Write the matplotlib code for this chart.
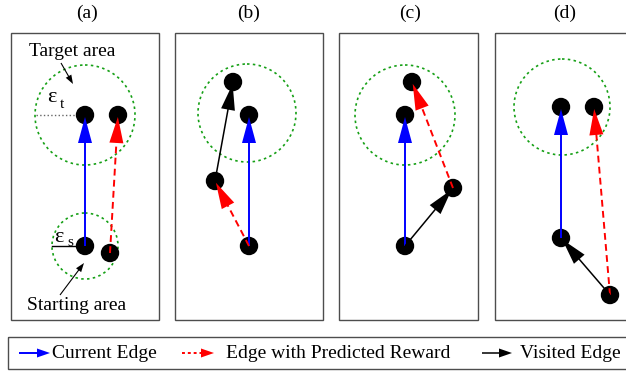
"""Diagrama de aristas: área objetivo, área de inicio y recompensas predichas."""

import matplotlib

matplotlib.use("Agg")
import matplotlib.pyplot as plt
from matplotlib.patches import Circle, Rectangle
import numpy as np

plt.rcParams["font.family"] = ["Liberation Serif", "DejaVu Serif"]

W, H = 626, 372

# panel frames and titles (pixel units, y pointing down)
panel_labels = ["(a)", "(b)", "(c)", "(d)"]
title_x = [87, 249, 410, 565]
panel_left = [11, 175, 339, 495]
panel_right = [159, 323, 478, 640]
panel_top, panel_bottom = 33, 320

# node positions per panel
nodes = [
    [(85, 115), (118, 115), (85, 246), (110, 253)],
    [(249, 115), (233, 82), (215, 181), (249, 246)],
    [(405, 115), (412, 82), (453, 188), (405, 246)],
    [(561, 107), (594, 107), (561, 238), (610, 295)],
]
# edges per panel: (from node, to node, kind)
edges = [
    [(2, 0, "current"), (3, 1, "predicted")],
    [(3, 0, "current"), (3, 2, "predicted"), (2, 1, "visited")],
    [(3, 0, "current"), (3, 2, "visited"), (2, 1, "predicted")],
    [(2, 0, "current"), (3, 1, "predicted"), (3, 2, "visited")],
]
target_center = [(85, 115), (247, 113), (405, 115), (562, 107)]
target_radius = [50, 49, 50, 48]
start_center = (85, 246)
start_radius = 33

edge_style = {
    "current": dict(color="#0000ff", ls="-", lw=1.4),
    "predicted": dict(color="#ff0000", ls=(0, (3.5, 2.2)), lw=1.4),
    "visited": dict(color="black", ls="-", lw=1.1),
}
legend_items = [("current", "Current Edge"),
                ("predicted", "Edge with Predicted Reward"),
                ("visited", "Visited Edge")]
legend_x = [(19, 50, 52), (182, 214, 226), (482, 512, 520)]


def draw_arrow(ax, p, q, color, ls, lw, head_len=26, head_w=7, tip_gap=2, z=3):
    p = np.asarray(p, float)
    q = np.asarray(q, float)
    u = (q - p) / np.hypot(*(q - p))
    n = np.array([-u[1], u[0]])
    tip = q - u * tip_gap
    base = tip - u * head_len
    end = base + u * 2
    ax.plot([p[0], end[0]], [p[1], end[1]], color=color, ls=ls, lw=lw, zorder=z,
            solid_capstyle="butt", dash_capstyle="butt")
    pts = [tip, base + n * head_w, base - n * head_w]
    ax.fill([pt[0] for pt in pts], [pt[1] for pt in pts], color=color, lw=0, zorder=z)


fig = plt.figure(figsize=(W / 100, H / 100), dpi=100)
ax = fig.add_axes([0, 0, 1, 1])
ax.set_xlim(0, W)
ax.set_ylim(H, 0)
ax.axis("off")

green = "#16a016"
dotted = (0, (1.5, 2.0))

for i, label in enumerate(panel_labels):
    ax.add_patch(Rectangle((panel_left[i], panel_top), panel_right[i] - panel_left[i],
                           panel_bottom - panel_top, fill=False, ec="0.3", lw=1.0, zorder=1))
    ax.text(title_x[i], 13, label, ha="center", va="center", fontsize=14)
    ax.add_patch(Circle(target_center[i], target_radius[i], fill=False, ec=green,
                        lw=1.2, ls=dotted, zorder=1))
    for x, y in nodes[i]:
        ax.add_patch(Circle((x, y), 8.5, color="black", zorder=2))
    for a, b, kind in edges[i]:
        draw_arrow(ax, nodes[i][a], nodes[i][b], **edge_style[kind])

# annotations of panel (a)
ax.add_patch(Circle(start_center, start_radius, fill=False, ec=green, lw=1.2, ls=dotted, zorder=1))
ax.text(72, 51, "Target area", ha="center", va="center", fontsize=14)
draw_arrow(ax, (61, 63), (73, 84), "black", "-", 0.8, head_len=9, head_w=3.2, tip_gap=0)
ax.plot([36, 77], [115, 115], color="0.4", ls=":", lw=1.0, zorder=1)
ax.text(52, 98, "ε", ha="center", va="center", fontsize=16)
ax.text(62, 104, "t", ha="center", va="center", fontsize=11)
ax.plot([52, 80], [246, 246], color="black", lw=1.0, zorder=1)
ax.text(59, 237, "ε", ha="center", va="center", fontsize=16)
ax.text(70, 243, "s", ha="center", va="center", fontsize=11)
ax.text(77, 305, "Starting area", ha="center", va="center", fontsize=14)
draw_arrow(ax, (60, 295), (84, 263), "black", "-", 0.8, head_len=9, head_w=3.2, tip_gap=0)

# legend
ax.add_patch(Rectangle((8, 337), 640, 32, fill=False, ec="0.3", lw=1.0))
for (kind, text), (x0, x1, xt) in zip(legend_items, legend_x):
    style = dict(edge_style[kind])
    if kind == "predicted":
        style["ls"] = (0, (1.5, 1.5))
    draw_arrow(ax, (x0, 353), (x1, 353), head_len=13, head_w=4.5, tip_gap=0, **style)
    ax.text(xt, 353, text, ha="left", va="center", fontsize=14)

fig.savefig("out.png", dpi=100)
plt.close(fig)
